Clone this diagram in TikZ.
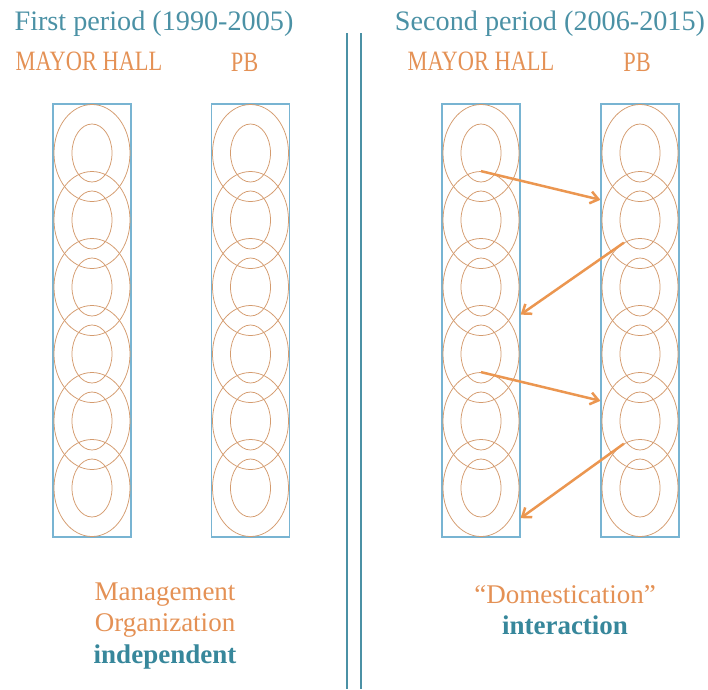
\documentclass[tikz,border=0pt]{standalone}
\usepackage{fontspec}
\setmainfont{Liberation Serif}
\newfontfamily\narrowfont[FakeStretch=0.8]{Liberation Serif}
\usetikzlibrary{shapes.geometric, arrows.meta, positioning, calc}
\definecolor{titleblue}{RGB}{75,145,165}
\definecolor{darkteal}{RGB}{55,135,155}
\definecolor{labelorange}{RGB}{228,145,85}
\definecolor{ringbrown}{RGB}{212,155,110}
\definecolor{boxblue}{RGB}{120,180,210}
\definecolor{arroworange}{RGB}{235,150,80}

\begin{document}
\begin{tikzpicture}[
    x=1pt, y=-1pt,
    % styles
    period/.style={
        font=\fontsize{28.2}{32}\selectfont, text=titleblue, inner sep=0pt
    },
    actor/.style={
        font=\narrowfont\fontsize{28}{30}\selectfont, text=labelorange, inner sep=0pt
    },
    column/.style={
        draw=boxblue, fill=white, line width=1.1pt, minimum width=78pt, minimum height=433pt, inner sep=0pt
    },
    outer_ring/.style={
        ellipse, draw=ringbrown, line width=0.75pt, minimum width=76pt, minimum height=97pt, inner sep=0pt
    },
    inner_ring/.style={
        ellipse, draw=ringbrown, line width=0.75pt, minimum width=40pt, minimum height=58pt, inner sep=0pt
    },
    link/.style={
        -{Straight Barb[length=8pt,width=12pt]}, line width=2.5pt, arroworange
    },
    divider/.style={
        draw=titleblue, line width=2.2pt
    },
    note/.style={
        font=\fontsize{27}{31.5}\selectfont, text=labelorange, align=center, inner sep=0pt
    }
]
    \useasboundingbox (0,0) rectangle (708,689);

    % --- 1. TITLES ---
    \node[period] (title_a) at (154,24) {First period (1990-2005)};
    \node[period] (title_b) at (550,24) {Second period (2006-2015)};

    % separator between the two periods
    \draw[divider] (347,33) -- (347,689);
    \draw[divider] (361,33) -- (361,689);

    % --- 2. COLUMNS ---
    \node[column] (mh_a_box) at (92,320.5) {};
    \node[column] (pb_a_box) at (250.5,320.5) {};
    \node[column] (mh_b_box) at (481,320.5) {};
    \node[column] (pb_b_box) at (640,320.5) {};

    \node[actor, above=32pt of mh_a_box, xshift=-3pt] (mh_a_label) {MAYOR HALL};
    \node[actor, above=32pt of pb_a_box, xshift=-6pt] (pb_a_label) {PB};
    \node[actor, above=32pt of mh_b_box] (mh_b_label) {MAYOR HALL};
    \node[actor, above=32pt of pb_b_box, xshift=-3pt] (pb_b_label) {PB};

    % rings inside every column
    \foreach \col/\cx in {mh_a/92, pb_a/250.5, mh_b/481, pb_b/640} {
        \foreach \i in {1,...,6} {
            \node[outer_ring] (\col_\i) at (\cx,{153+67*(\i-1)}) {};
            \node[inner_ring] (\col_in_\i) at (\col_\i) {};
        }
    }

    % --- 3. INTERACTION (second period) ---
    \draw[link] (mh_b_2.north) -- (pb_b_box.west |- pb_b_2.150);
    \draw[link] (pb_b_3.110) -- (mh_b_box.east |- mh_b_4.60);
    \draw[link] (mh_b_5.north) -- (pb_b_box.west |- pb_b_5.150);
    \draw[link] (pb_b_6.110) -- (mh_b_box.east |- mh_b_6.-45);

    % --- 4. NOTES ---
    \node[note] (note_a) at (165,626) {Management\\Organization\\\textcolor{darkteal}{\bfseries independent}};
    \node[note] (note_b) at (565,610) {``Domestication''\\\textcolor{darkteal}{\bfseries interaction}};

\end{tikzpicture}
\end{document}
